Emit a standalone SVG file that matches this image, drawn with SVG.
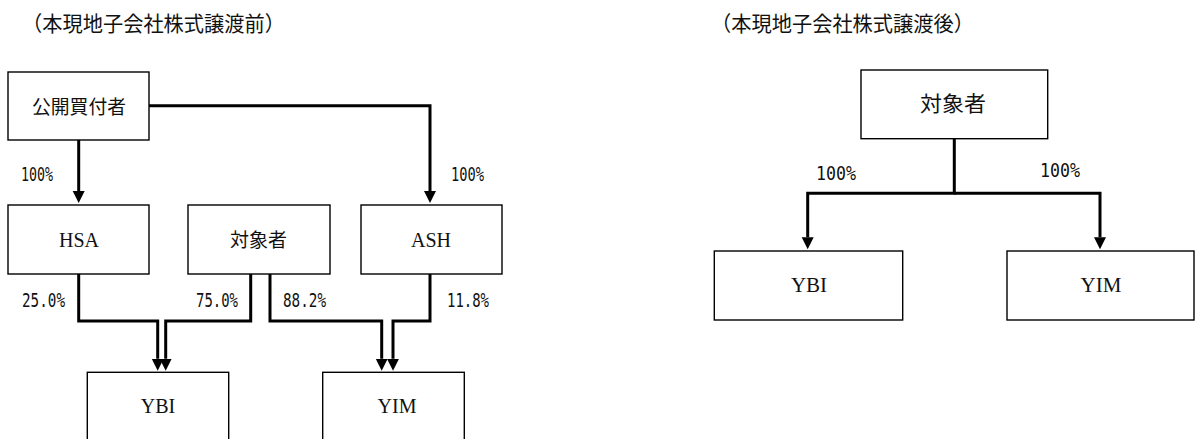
<svg xmlns="http://www.w3.org/2000/svg" width="1200" height="439" viewBox="0 0 1200 439">
<style>
.box{fill:#fff;stroke:#000;stroke-width:1.4}
.cn{stroke:#000;stroke-width:3;fill:none;marker-end:url(#ah)}
.jp{font-family:"Noto Sans CJK JP","Noto Sans CJK SC",sans-serif;fill:#111}
.lat{font-family:"Liberation Serif",serif;fill:#111;text-anchor:middle}
.pct{font-family:"DejaVu Sans Mono","Liberation Mono",monospace;font-size:20px;fill:#111}
</style>
<defs>
<marker id="ah" markerUnits="userSpaceOnUse" markerWidth="13" markerHeight="13" refX="0" refY="6" orient="auto">
<path d="M0,0 L12,6 L0,12 z" fill="#000"/>
</marker>
</defs>
<rect width="1200" height="439" fill="#fff"/>
<text class="jp" x="22" y="31" font-size="21" textLength="263" lengthAdjust="spacingAndGlyphs">（本現地子会社株式譲渡前）</text>
<text class="jp" x="711" y="31" font-size="21" textLength="263" lengthAdjust="spacingAndGlyphs">（本現地子会社株式譲渡後）</text>

<g id="connectors">
<path class="cn" d="M78.7,140 V191"/>
<path class="cn" d="M149,105.7 H430 V191"/>
<path class="cn" d="M78.7,274 V321 H157.7 V358.7"/>
<path class="cn" d="M250.7,274 V321 H165.7 V358.7"/>
<path class="cn" d="M270,274 V321 H381.7 V358.7"/>
<path class="cn" d="M430,274 V321 H393 V358.7"/>
<path class="cn" d="M954.3,138.7 V193.3 H807.7 V237.3"/>
<path class="cn" d="M954.3,193.3 H1100 V237.3"/>
</g>

<g id="labels">
<text class="pct" x="21" y="181" textLength="32" lengthAdjust="spacingAndGlyphs">100%</text>
<text class="pct" x="451" y="181" textLength="33" lengthAdjust="spacingAndGlyphs">100%</text>
<text class="pct" x="22" y="306.5" textLength="43" lengthAdjust="spacingAndGlyphs">25.0%</text>
<text class="pct" x="196" y="306.5" textLength="42" lengthAdjust="spacingAndGlyphs">75.0%</text>
<text class="pct" x="283" y="306.5" textLength="43" lengthAdjust="spacingAndGlyphs">88.2%</text>
<text class="pct" x="447" y="306.5" textLength="42" lengthAdjust="spacingAndGlyphs">11.8%</text>
<text class="pct" x="816" y="180" font-size="21" textLength="40" lengthAdjust="spacingAndGlyphs">100%</text>
<text class="pct" x="1040" y="177" font-size="21" textLength="40" lengthAdjust="spacingAndGlyphs">100%</text>
</g>

<g id="kokai">
<rect class="box" x="8" y="72" width="141" height="68"/>
<text class="jp" x="32" y="114" font-size="19" textLength="94" lengthAdjust="spacingAndGlyphs">公開買付者</text>
</g>
<g id="hsa">
<rect class="box" x="8" y="205" width="141" height="69"/>
<text class="lat" x="79" y="247" font-size="20">HSA</text>
</g>
<g id="taisho-before">
<rect class="box" x="188" y="205" width="142" height="69"/>
<text class="jp" x="230" y="247" font-size="19" textLength="57" lengthAdjust="spacingAndGlyphs">対象者</text>
</g>
<g id="ash">
<rect class="box" x="361" y="205" width="141" height="69"/>
<text class="lat" x="431" y="247" font-size="20">ASH</text>
</g>
<g id="ybi-before">
<rect class="box" x="87.3" y="372.3" width="141.4" height="80"/>
<text class="lat" x="158" y="413" font-size="20">YBI</text>
</g>
<g id="yim-before">
<rect class="box" x="322.7" y="372.3" width="141.6" height="80"/>
<text class="lat" x="397" y="413" font-size="20">YIM</text>
</g>

<g id="taisho-after">
<rect class="box" x="861" y="70" width="186.7" height="68.7"/>
<text class="jp" x="920" y="111" font-size="21" textLength="66" lengthAdjust="spacingAndGlyphs">対象者</text>
</g>
<g id="ybi-after">
<rect class="box" x="714.3" y="251" width="188.4" height="69"/>
<text class="lat" x="809" y="292" font-size="21">YBI</text>
</g>
<g id="yim-after">
<rect class="box" x="1007" y="251" width="187" height="69"/>
<text class="lat" x="1101" y="292" font-size="21">YIM</text>
</g>
</svg>
